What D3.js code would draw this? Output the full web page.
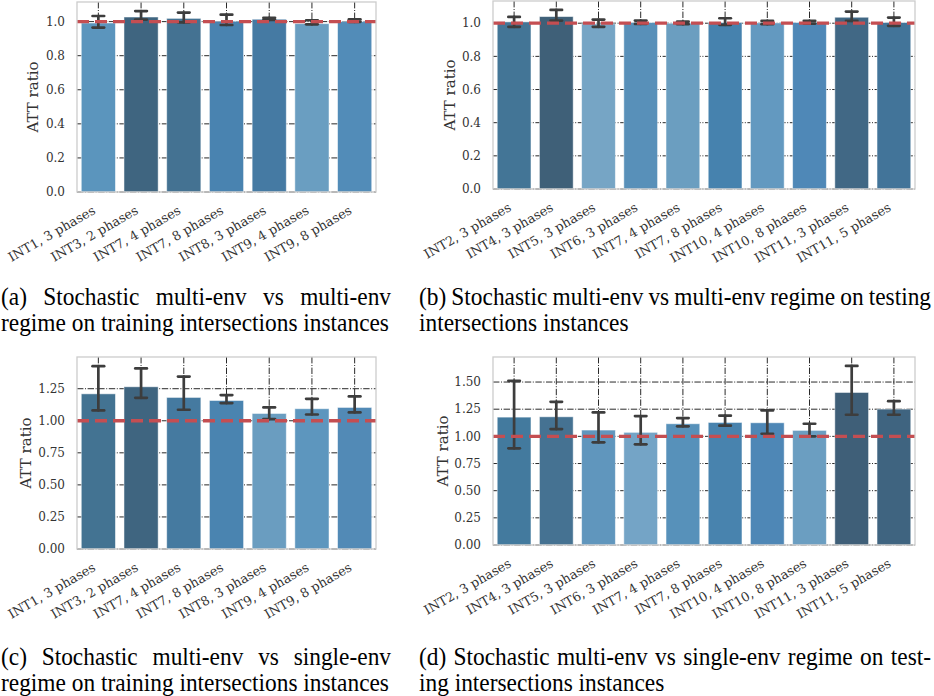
<!DOCTYPE html>
<html><head><meta charset="utf-8">
<script src="https://cdn.jsdelivr.net/npm/d3@7"></script>
<style>
html,body{margin:0;padding:0;background:#fff;}
svg{display:block;}
</style></head>
<body>
<svg id="fig" width="934" height="696"></svg>
<script>
// Intersection instances
const trainCats = ["INT1, 3 phases","INT3, 2 phases","INT7, 4 phases","INT7, 8 phases","INT8, 3 phases","INT9, 4 phases","INT9, 8 phases"];
const testCats = ["INT2, 3 phases","INT4, 3 phases","INT5, 3 phases","INT6, 3 phases","INT7, 4 phases","INT7, 8 phases","INT10, 4 phases","INT10, 8 phases","INT11, 3 phases","INT11, 5 phases"];

// (a) stochastic multi-env vs multi-env, training intersections
const ratioA = [0.992, 1.027, 1.019, 1.002, 1.014, 0.988, 1.000];
const lowA   = [0.965, 1.012, 0.996, 0.980, 1.010, 0.984, 0.999];
const highA  = [1.033, 1.062, 1.053, 1.041, 1.022, 1.008, 1.013];
const colorsA = ["#5b95bd","#3f6580","#447292","#4983b0","#457aa3","#6a9ec1","#528cb8"];

// (b) stochastic multi-env vs multi-env, testing intersections
const ratioB = [1.008, 1.040, 0.996, 1.004, 1.000, 1.004, 1.002, 1.004, 1.036, 1.004];
const lowB   = [0.978, 1.016, 0.978, 0.996, 0.994, 0.990, 0.994, 0.998, 1.014, 0.984];
const highB  = [1.038, 1.080, 1.022, 1.016, 1.010, 1.030, 1.014, 1.014, 1.070, 1.034];
const colorsB = ["#437596","#3f6078","#76a5c5","#5890b9","#6b9ec0","#4682ae","#6399c0","#4f88b7","#416885","#427499"];

// (c) stochastic multi-env vs single-env, training intersections
const ratioC = [1.210, 1.265, 1.182, 1.158, 1.057, 1.094, 1.104];
const lowC   = [1.081, 1.179, 1.086, 1.138, 1.013, 1.049, 1.065];
const highC  = [1.426, 1.408, 1.345, 1.200, 1.104, 1.171, 1.190];
const colorsC = ["#437392","#3f6580","#457aa0","#4a84b0","#6a9dc0","#5d96be","#528ab6"];

// (d) stochastic multi-env vs single-env, testing intersections
const ratioD = [1.177, 1.180, 1.058, 1.037, 1.116, 1.128, 1.125, 1.055, 1.404, 1.251];
const lowD   = [0.890, 1.067, 0.945, 0.927, 1.092, 1.098, 1.024, 1.000, 1.199, 1.199];
const highD  = [1.511, 1.318, 1.220, 1.187, 1.168, 1.190, 1.239, 1.116, 1.648, 1.324];
const colorsD = ["#437a9e","#457292","#6096bd","#74a4c6","#5791ba","#4883ae","#4e87b6","#6b9ec1","#3f5f78","#3f6480"];

// y-axis ticks
const ticksAB = [0, 0.2, 0.4, 0.6, 0.8, 1.0];
const ticksC = [0, 0.25, 0.5, 0.75, 1.0, 1.25];
const ticksD = [0, 0.25, 0.5, 0.75, 1.0, 1.25, 1.5];

const baseline = 1.0;
const yLabel = "ATT ratio";

const captionA = ["(a) Stochastic multi-env vs multi-env", "regime on training intersections instances"];
const captionB = ["(b) Stochastic multi-env vs multi-env regime on testing", "intersections instances"];
const captionC = ["(c) Stochastic multi-env vs single-env", "regime on training intersections instances"];
const captionD = ["(d) Stochastic multi-env vs single-env regime on test-", "ing intersections instances"];

const svg = d3.select("#fig");
const tickFont = "'DejaVu Serif', serif";
const textColor = "#333333";

function drawPanel(p) {
  const g = svg.append("g");
  const x = d3.scaleBand().domain(p.cats).range([p.left, p.right]).paddingInner(0.2).paddingOuter(0.1);
  const yMax = d3.max(p.high) * 1.05;
  const y = d3.scaleLinear().domain([0, yMax]).range([p.bottom, p.top]);

  const grid = g.append("g").attr("stroke", "#111").attr("stroke-width", 0.9)
    .attr("stroke-dasharray", "6.4,1.6,1,1.6").attr("fill", "none");
  grid.selectAll("line.h").data(p.ticks).join("line").attr("class", "h")
    .attr("x1", p.left).attr("x2", p.right).attr("y1", d => y(d)).attr("y2", d => y(d));
  grid.selectAll("line.v").data(p.cats).join("line").attr("class", "v")
    .attr("x1", d => x(d) + x.bandwidth() / 2).attr("x2", d => x(d) + x.bandwidth() / 2)
    .attr("y1", p.top).attr("y2", p.bottom);

  g.append("g").selectAll("rect").data(p.vals).join("rect")
    .attr("x", (d, i) => x(p.cats[i]))
    .attr("width", x.bandwidth())
    .attr("y", d => y(d))
    .attr("height", d => y(0) - y(d))
    .attr("fill", (d, i) => p.colors[i])
    .attr("stroke", "rgba(255,255,255,0.55)").attr("stroke-width", 0.9);

  const eb = g.append("g").attr("stroke", "#3d3d3d").attr("stroke-width", 2.7).attr("stroke-linecap", "round");
  const cap = x.bandwidth() * 0.17;
  p.cats.forEach((c, i) => {
    const cx = x(c) + x.bandwidth() / 2;
    eb.append("line").attr("x1", cx).attr("x2", cx).attr("y1", y(p.low[i])).attr("y2", y(p.high[i]));
    eb.append("line").attr("x1", cx - cap).attr("x2", cx + cap).attr("y1", y(p.low[i])).attr("y2", y(p.low[i]));
    eb.append("line").attr("x1", cx - cap).attr("x2", cx + cap).attr("y1", y(p.high[i])).attr("y2", y(p.high[i]));
  });

  g.append("line").attr("x1", p.left).attr("x2", p.right)
    .attr("y1", y(baseline)).attr("y2", y(baseline))
    .attr("stroke", "#c44e52").attr("stroke-width", 3.3).attr("stroke-dasharray", "12,6");

  g.append("rect").attr("x", p.left).attr("y", p.top)
    .attr("width", p.right - p.left).attr("height", p.bottom - p.top)
    .attr("fill", "none").attr("stroke", "#cccccc").attr("stroke-width", 1.3);

  // y tick labels
  g.append("g").selectAll("text").data(p.ticks).join("text")
    .attr("x", p.left - 12).attr("y", d => y(d)).attr("dy", "0.35em")
    .attr("text-anchor", "end").attr("font-family", tickFont).attr("font-size", 12)
    .attr("fill", textColor).text(d => p.fmt(d));

  // x tick labels, rotated
  g.append("g").selectAll("text").data(p.cats).join("text")
    .attr("transform", d => `translate(${x(d) + x.bandwidth() / 2 - 2},${p.bottom + 21}) rotate(-30)`)
    .attr("text-anchor", "end").attr("font-family", tickFont).attr("font-size", 12.8)
    .attr("fill", textColor).text(d => d);

  g.append("text")
    .attr("transform", `translate(${p.left - p.labelOff},${(p.top + p.bottom) / 2}) rotate(-90)`)
    .attr("text-anchor", "middle").attr("dominant-baseline", "central")
    .attr("font-family", tickFont).attr("font-size", 15).attr("fill", textColor).text(yLabel);
}

// captions: justified first line, natural last line
const capScaleX = 0.935;
function caption(lines, x0, width, yBase) {
  lines.forEach((line, i) => {
    const t = svg.append("text")
      .attr("transform", `translate(${x0},${yBase + i * 26}) scale(${capScaleX},1)`)
      .attr("font-family", "'Liberation Serif', 'Times New Roman', serif")
      .attr("font-size", 25).attr("fill", "#000").text(line);
    if (i < lines.length - 1) {
      const natural = t.node().getComputedTextLength();
      const spaces = (line.match(/ /g) || []).length;
      if (spaces > 0) t.style("word-spacing", ((width / capScaleX - natural) / spaces) + "px");
    }
  });
}

const f1 = d3.format(".1f"), f2 = d3.format(".2f");

drawPanel({cats: trainCats, vals: ratioA, low: lowA, high: highA, colors: colorsA, ticks: ticksAB, fmt: f1,
  left: 77, right: 376, top: 2, bottom: 192, labelOff: 44});
drawPanel({cats: testCats, vals: ratioB, low: lowB, high: highB, colors: colorsB, ticks: ticksAB, fmt: f1,
  left: 493, right: 915, top: 1, bottom: 189, labelOff: 43});
drawPanel({cats: trainCats, vals: ratioC, low: lowC, high: highC, colors: colorsC, ticks: ticksC, fmt: f2,
  left: 77, right: 376, top: 357, bottom: 549, labelOff: 51});
drawPanel({cats: testCats, vals: ratioD, low: lowD, high: highD, colors: colorsD, ticks: ticksD, fmt: f2,
  left: 493, right: 915, top: 357, bottom: 545, labelOff: 50});

caption(captionA, 1, 390, 305);
caption(captionB, 419, 512, 305);
caption(captionC, 1, 390, 665);
caption(captionD, 419, 512, 665);
</script>
</body></html>
